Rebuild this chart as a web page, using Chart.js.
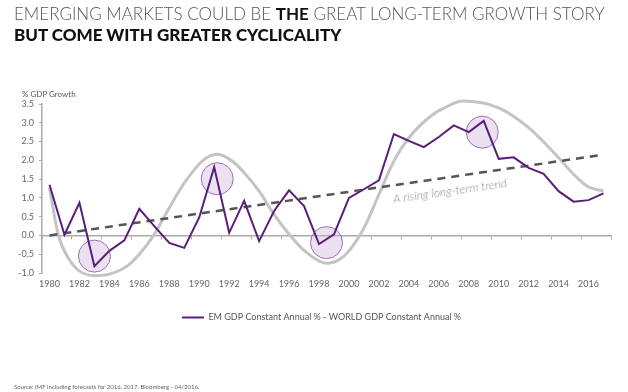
<!DOCTYPE html>
<html>
<head>
<meta charset="utf-8">
<script src="https://cdn.jsdelivr.net/npm/chart.js@4.4.1/dist/chart.umd.min.js"></script>
<style>
  html, body { margin: 0; padding: 0; background: #fff; }
  #wrap { position: relative; width: 628px; height: 392px; overflow: hidden; font-family: Lato, "Open Sans", sans-serif; }
  #chart { position: absolute; left: 0; top: 0; }
  .title1 { position: absolute; left: 14px; top: 3px; font-size: 17px; font-weight: 300; color: #555; white-space: nowrap; }
  .title1 b { font-weight: 700; color: #111; }
  .title2 { position: absolute; left: 14px; top: 24px; font-size: 17px; font-weight: 900; color: #111; white-space: nowrap; }
  .ylab { position: absolute; left: 22px; top: 89px; font-size: 8px; color: #555; }
  .trend { position: absolute; left: 394px; top: 193px; font-size: 12px; line-height: 12px; font-style: italic; font-weight: 300; color: #8a8a8a;
           transform: rotate(-8deg); transform-origin: 0 100%; white-space: nowrap; }
  .source { position: absolute; left: 14px; top: 383px; font-size: 6px; color: #666; white-space: nowrap; }
</style>
</head>
<body>
<div id="wrap">
  <canvas id="chart" width="628" height="392"></canvas>
  <div class="title1">EMERGING MARKETS COULD BE <b>THE</b> GREAT LONG-TERM GROWTH STORY</div>
  <div class="title2">BUT COME WITH GREATER CYCLICALITY</div>
  <div class="ylab">% GDP Growth</div>
  <div class="trend">A rising long-term trend</div>
  <div class="source">Source: IMF including forecasts for 2016, 2017. Bloomberg - 04/2016.</div>
</div>
<script>
// EM minus world GDP growth, one value per year
const years = [1980, 1981, 1982, 1983, 1984, 1985, 1986, 1987, 1988, 1989,
               1990, 1991, 1992, 1993, 1994, 1995, 1996, 1997, 1998, 1999,
               2000, 2001, 2002, 2003, 2004, 2005, 2006, 2007, 2008, 2009,
               2010, 2011, 2012, 2013, 2014, 2015, 2016, 2017];
const emSpread = [1.35, 0.02, 0.87, -0.82, -0.41, -0.13, 0.71, 0.25, -0.2, -0.33,
                  0.48, 1.82, 0.07, 0.92, -0.15, 0.65, 1.2, 0.78, -0.23, 0.03,
                  1.0, 1.23, 1.47, 2.7, 2.52, 2.35, 2.62, 2.93, 2.75, 3.05,
                  2.04, 2.08, 1.8, 1.64, 1.18, 0.9, 0.94, 1.12];

// hand-drawn cycle curve (grey)
const cycleYears = [1980, 1980.6, 1981.3, 1982, 1983.1, 1984, 1985.2, 1986, 1987, 1988,
                    1989.1, 1990.2, 1991.2, 1992.2, 1993, 1994, 1995, 1996, 1997, 1998,
                    1998.5, 1999.4, 2000, 2001, 2002, 2003, 2004, 2005.6, 2006.3, 2007.6,
                    2010, 2012, 2014, 2015, 2016, 2017];
const cycleValues = [1.27, 0.0, -0.63, -0.95, -1.07, -1.03, -0.81, -0.5, 0.03, 0.74,
                     1.45, 1.98, 2.16, 1.98, 1.67, 1.18, 0.56, 0.03, -0.4, -0.68,
                     -0.74, -0.63, -0.41, 0.2, 1.09, 1.98, 2.6, 3.22, 3.38, 3.58,
                     3.4, 2.87, 2.07, 1.63, 1.29, 1.18];

// dashed trend line end points
const trendYears = [1980, 2017];
const trendValues = [0.0, 2.15];

// highlighted turning points
const circleYears = [1983, 1991.2, 1998.5, 2008.9];
const circleValues = [-0.55, 1.51, -0.19, 2.75];

const yearTicks = [1980, 1982, 1984, 1986, 1988, 1990, 1992, 1994, 1996, 1998,
                   2000, 2002, 2004, 2006, 2008, 2010, 2012, 2014, 2016];
const boundaryTicks = [1979.5, 1981.5, 1983.5, 1985.5, 1987.5, 1989.5, 1991.5, 1993.5, 1995.5, 1997.5,
                       1999.5, 2001.5, 2003.5, 2005.5, 2007.5, 2009.5, 2011.5, 2013.5, 2015.5, 2017.5];

const legendLabel = 'EM GDP Constant Annual % - WORLD GDP Constant Annual %';
const purple = '#5a1e78';
const tickFont = { family: 'Lato', size: 9 };

const pairs = (xs, ys) => xs.map((x, i) => ({ x, y: ys[i] }));

// legend sits a little right of centre in the original
const nudgeLegend = {
    id: 'nudgeLegend',
    afterLayout(chart) {
        if (chart.legend) chart.legend.left += 28;
    }
};

new Chart(document.getElementById('chart'), {
    type: 'line',
    data: {
        datasets: [
            {
                label: legendLabel,
                data: pairs(years, emSpread),
                borderColor: purple,
                borderWidth: 2,
                pointRadius: 0,
                tension: 0,
                order: 0
            },
            {
                label: 'trend',
                data: pairs(trendYears, trendValues),
                borderColor: '#555',
                borderWidth: 2.5,
                borderDash: [8, 6],
                pointRadius: 0,
                order: 1
            },
            {
                type: 'bubble',
                label: 'circles',
                data: circleYears.map((x, i) => ({ x, y: circleValues[i], r: 16 })),
                backgroundColor: 'rgba(205, 180, 220, 0.4)',
                borderColor: '#9b6fb4',
                borderWidth: 1,
                order: 2
            },
            {
                label: 'cycle',
                data: pairs(cycleYears, cycleValues),
                borderColor: '#c4c4c4',
                borderWidth: 3,
                pointRadius: 0,
                cubicInterpolationMode: 'monotone',
                clip: false,
                order: 3
            }
        ]
    },
    options: {
        responsive: false,
        animation: false,
        devicePixelRatio: 1,
        layout: { padding: { top: 104, right: 13, bottom: 60, left: 0 } },
        plugins: {
            tooltip: { enabled: false },
            legend: {
                position: 'bottom',
                labels: {
                    filter: item => item.text === legendLabel,
                    usePointStyle: true,
                    pointStyle: 'line',
                    pointStyleWidth: 22,
                    color: '#555',
                    font: { family: 'Lato', size: 9 }
                }
            }
        },
        scales: {
            x: {
                type: 'linear',
                min: 1979.5,
                max: 2017.5,
                afterBuildTicks: s => { s.ticks = yearTicks.map(v => ({ value: v })); },
                afterFit: s => { s.height = 30; },
                ticks: { color: '#666', font: tickFont, padding: 6, maxRotation: 0, autoSkip: false,
                         callback: v => String(v) },
                grid: { display: false, drawTicks: false },
                border: { display: false }
            },
            x0: {
                type: 'linear',
                axis: 'x',
                position: { y: 0 },
                min: 1979.5,
                max: 2017.5,
                afterBuildTicks: s => { s.ticks = boundaryTicks.map(v => ({ value: v })); },
                ticks: { display: false },
                grid: { drawOnChartArea: false, drawTicks: true, tickLength: 3, color: '#aaa' },
                border: { display: true, color: '#aaa', width: 1.5 }
            },
            y: {
                min: -1,
                max: 3.5,
                afterFit: s => { s.width = 42; },
                ticks: { stepSize: 0.5, color: '#666', font: tickFont, padding: 5,
                         callback: v => v.toFixed(1) },
                grid: { drawOnChartArea: false, drawTicks: true, tickLength: 3, color: '#aaa' },
                border: { display: true, color: '#aaa', width: 1.5 }
            }
        }
    },
    plugins: [nudgeLegend]
});
</script>
</body>
</html>
